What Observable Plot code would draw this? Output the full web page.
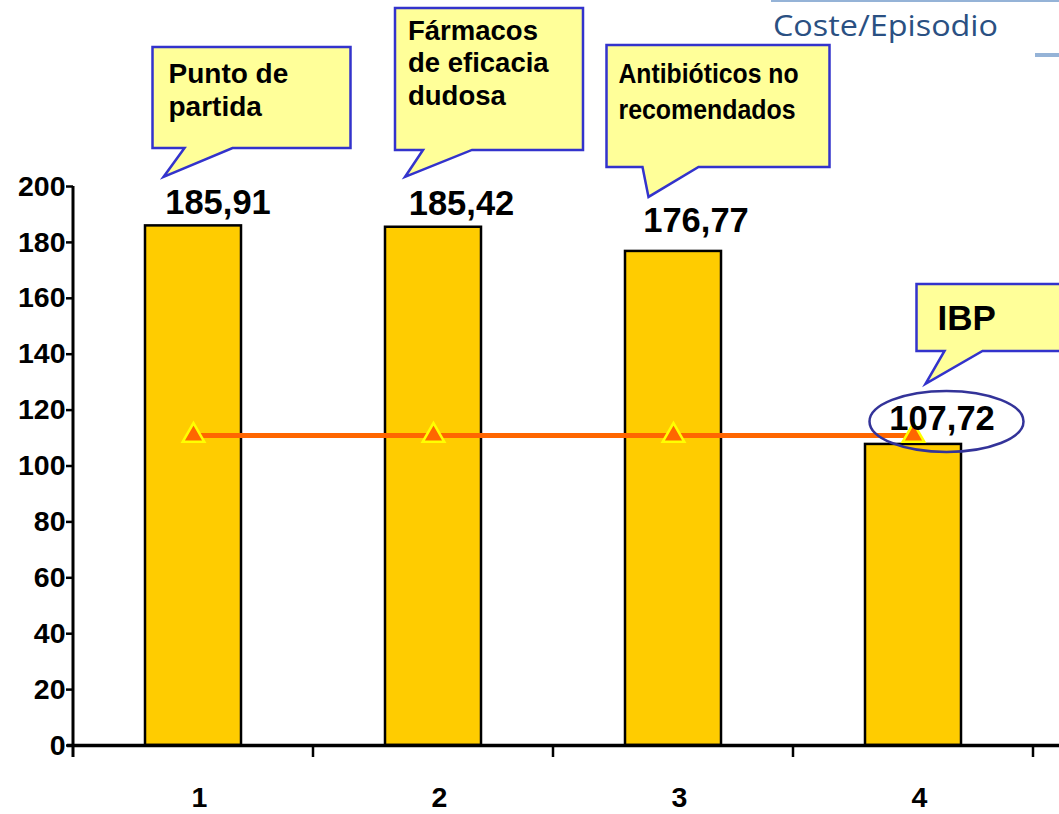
<!DOCTYPE html>
<html>
<head>
<meta charset="utf-8">
<script src="https://cdn.jsdelivr.net/npm/d3@7"></script>
<script src="https://cdn.jsdelivr.net/npm/@observablehq/plot@0.6"></script>
<style>
  html, body { margin: 0; padding: 0; background: #fff; }
  #chart { position: relative; width: 1059px; height: 814px; overflow: hidden; }
</style>
</head>
<body>
<div id="chart"></div>
<script>
// ---- Data ----
const categories = ["1", "2", "3", "4"];
const costs = [185.91, 185.42, 176.77, 107.72];
const costLabels = ["185,91", "185,42", "176,77", "107,72"];
const referenceCost = [110.9, 110.9, 110.9, 110.9];
const calloutTexts = [
  ["Punto de", "partida"],
  ["Fármacos", "de eficacia", "dudosa"],
  ["Antibióticos no", "recomendados"],
  ["IBP"]
];
const yTicks = [0, 20, 40, 60, 80, 100, 120, 140, 160, 180, 200];
const title = "Coste/Episodio";

const rows = categories.map((c, i) => ({cat: c, cost: costs[i], label: costLabels[i], ref: referenceCost[i]}));

// ---- Styling / layout (pixel offsets relative to each bar's top centre) ----
const FONT = "'Liberation Sans', Arial, sans-serif";
const labelOffsets = [[24.5, -11.5], [28, -12], [22.5, -19], [28.5, -14]];
const calloutLayout = [
  {box: [-40.5, 157.5, -178.4, -77.4], base: [-8.5, 39.5], tip: [-29.5, -48.4], tx: -24.5, ty: -142.4, lh: 33, fs: 28},
  {box: [-38, 150, -218.8, -76.8], base: [-10, 39], tip: [-28, -49.8], tx: -25, ty: -186.8, lh: 32.5, fs: 27.5},
  {box: [-66.5, 156.5, -206, -84], base: [-30.5, 25.5], tip: [-24.5, -54], tx: -54.5, ty: -168, lh: 36.5, fs: 27, lens: [180, 177]},
  {box: [3.5, 170, -160, -93], base: [31.5, 69.5], tip: [12.5, -60], tx: 24.5, ty: -114, lh: 36, fs: 35}
];

const plot = Plot.plot({
  width: 1059,
  height: 814,
  marginLeft: 73,
  marginRight: 26,
  marginTop: 186,
  marginBottom: 69,
  style: {fontFamily: FONT, background: "#fff", color: "#000", overflow: "visible"},
  x: {domain: categories, paddingInner: 0.6, paddingOuter: 0.3, align: 0.5, axis: null, label: null},
  y: {domain: [0, 200], axis: null, label: null},
  marks: [
    Plot.barY(rows, {x: "cat", y: "cost", fill: "#FFCC00", stroke: "#000", strokeWidth: 2.5}),
    Plot.axisY({ticks: yTicks, tickSize: 7, tickPadding: 1, fontSize: 28.5, fontWeight: "bold",
                tickFormat: d => String(d), strokeWidth: 2.5, fill: "#000", label: null}),
    Plot.axisX({tickSize: 0, tickPadding: 41, fontSize: 28.5, fontWeight: "bold", fill: "#000", label: null, dx: 6}),
    Plot.ruleY([0], {stroke: "#000", strokeWidth: 3.5, insetLeft: -6, insetRight: -30}),
    Plot.lineY(rows, {x: "cat", y: "ref", stroke: "#FF6600", strokeWidth: 5}),
    Plot.dot(rows, {x: "cat", y: "ref", symbol: "triangle", r: 8, fill: "#FF6600", stroke: "#FFFF00", strokeWidth: 2.5}),
    ...rows.map((r, i) => Plot.text([r], {
      x: "cat", y: "cost", text: "label", dx: labelOffsets[i][0], dy: labelOffsets[i][1],
      lineAnchor: "bottom", fontSize: 34.5, fontWeight: "bold", fill: "#000"
    }))
  ]
});

document.getElementById("chart").appendChild(plot);

// ---- Annotations anchored to the plot's scales ----
const svg = d3.select(plot);
const xs = plot.scale("x");
const ys = plot.scale("y");
const bw = xs.bandwidth;
const step = xs.step;
const y0 = ys.apply(0);
const yTop = ys.apply(200);
const xLeft = xs.apply(categories[0]) - (step - bw) / 2;

// y-axis line (extends slightly below the x axis)
svg.append("line").attr("x1", xLeft).attr("x2", xLeft).attr("y1", yTop).attr("y2", y0 + 12)
  .attr("stroke", "#000").attr("stroke-width", 3);
// x-axis boundary ticks
categories.forEach((c, i) => {
  const b = xs.apply(c) + bw + (step - bw) / 2;
  svg.append("line").attr("x1", b).attr("x2", b).attr("y1", y0).attr("y2", y0 + 12)
    .attr("stroke", "#000").attr("stroke-width", 2.5);
});

// ellipse around the last value
{
  const i = 3;
  const cx = xs.apply(categories[i]) + bw / 2;
  const top = ys.apply(costs[i]);
  svg.append("ellipse")
    .attr("cx", cx + 33.5).attr("cy", top - 22.5).attr("rx", 77).attr("ry", 30.5)
    .attr("fill", "none").attr("stroke", "#333399").attr("stroke-width", 2.5);
}

// callouts
const cg = svg.append("g").attr("class", "callouts").attr("text-anchor", "start");
calloutTexts.forEach((lines, i) => {
  const L = calloutLayout[i];
  const cx = xs.apply(categories[i]) + bw / 2;
  const top = ys.apply(costs[i]);
  const [l, r, t, b] = L.box.map((v, k) => (k < 2 ? cx : top) + v);
  const path = `M${l},${t}H${r}V${b}H${cx + L.base[1]}L${cx + L.tip[0]},${top + L.tip[1]}L${cx + L.base[0]},${b}H${l}Z`;
  cg.append("path").attr("d", path).attr("fill", "#FFFF99").attr("stroke", "#3333CC")
    .attr("stroke-width", 2.5).attr("stroke-linejoin", "miter");
  lines.forEach((s, k) => {
    const t = cg.append("text").attr("x", cx + L.tx).attr("y", top + L.ty + k * L.lh)
      .attr("text-anchor", "start")
      .attr("font-family", FONT).attr("font-weight", "bold").attr("font-size", L.fs)
      .attr("fill", "#000").text(s);
    if (L.lens) t.attr("textLength", L.lens[k]).attr("lengthAdjust", "spacingAndGlyphs");
  });
});

// title and decorative rules at top right
svg.append("rect").attr("x", 771).attr("y", 0).attr("width", 300).attr("height", 2).attr("fill", "#95B3D7");
svg.append("rect").attr("x", 1035).attr("y", 53).attr("width", 30).attr("height", 4).attr("fill", "#95B3D7");
svg.append("text").attr("x", 773).attr("y", 36).attr("text-anchor", "start")
  .attr("font-family", "'Open Sans', 'Noto Sans', sans-serif")
  .attr("font-size", 30).attr("fill", "#2A5082").attr("textLength", 225).attr("lengthAdjust", "spacingAndGlyphs")
  .text(title);
</script>
</body>
</html>
